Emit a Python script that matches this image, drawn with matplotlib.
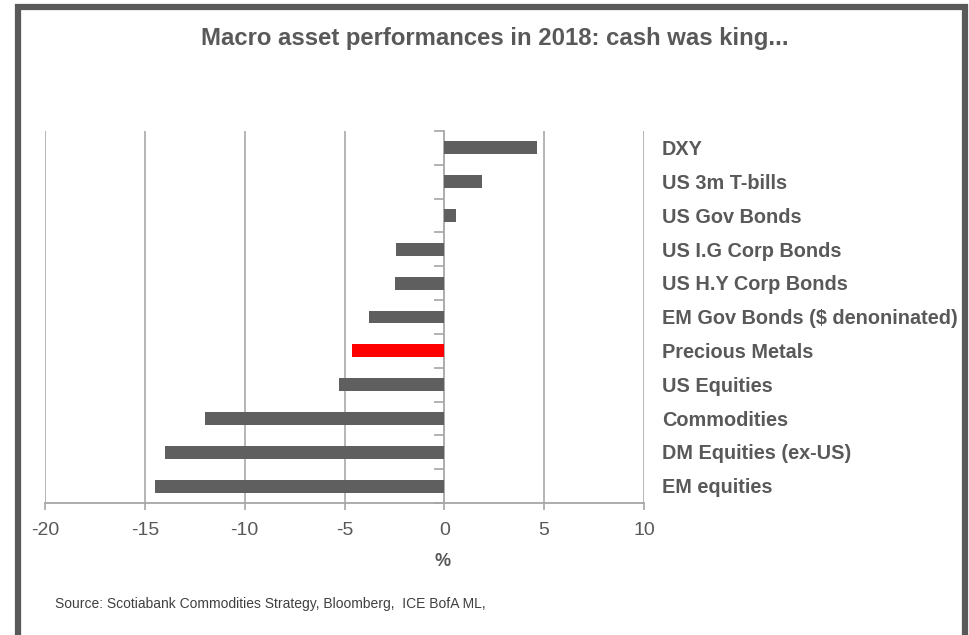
import matplotlib.pyplot as plt
from matplotlib.patches import Rectangle

assets = ["DXY", "US 3m T-bills", "US Gov Bonds", "US I.G Corp Bonds",
          "US H.Y Corp Bonds", "EM Gov Bonds ($ denoninated)", "Precious Metals",
          "US Equities", "Commodities", "DM Equities (ex-US)", "EM equities"]
returns = [4.65, 1.9, 0.6, -2.4, -2.45, -3.75, -4.6, -5.3, -12.0, -14.0, -14.5]
highlight = "Precious Metals"

xticks = [-20, -15, -10, -5, 0, 5, 10]

grey = "#595959"
plt.rcParams['font.family'] = ['Liberation Sans', 'DejaVu Sans']

fig = plt.figure(figsize=(9.69, 6.35), dpi=100)
ax = fig.add_axes([45/969, 132/635, 599/969, 372/635])

n = len(assets)
ypos = list(range(n - 1, -1, -1))
colors = ["#ff0000" if a == highlight else "#5f5f5f" for a in assets]
ax.barh(ypos, returns, height=0.38, color=colors, zorder=3)

ax.set_xlim(-20, 10)
ax.set_ylim(-0.5, n - 0.5)
ax.set_xticks(xticks)
ax.set_xticklabels([str(t) for t in xticks])
ax.tick_params(axis='x', colors="#a6a6a6", labelcolor=grey, labelsize=14,
               length=5, width=1.2, pad=9)

# category axis sits at zero with ticks between categories
ax.spines['left'].set_position(('data', 0))
ax.spines['left'].set_color("#a6a6a6")
ax.spines['left'].set_linewidth(1.3)
ax.set_yticks([i - 0.5 for i in range(n + 1)])
ax.set_yticklabels([])
ax.tick_params(axis='y', direction='out', length=7, width=1.2, colors="#a6a6a6")
ax.spines['bottom'].set_color("#a6a6a6")
ax.spines['bottom'].set_linewidth(1.3)
ax.spines['top'].set_visible(False)
ax.spines['right'].set_visible(False)

for x in [-20, -15, -10, -5, 5, 10]:
    ax.axvline(x, color="#b0b0b0", lw=1.3, zorder=1)

for y, a in zip(ypos, assets):
    ax.text(10.9, y - 0.05, a, ha='left', va='center', fontsize=14.3,
            fontweight='bold', color=grey, clip_on=False)

ax.set_xlabel("%", fontsize=13, fontweight='bold', color=grey)
ax.xaxis.set_label_coords(0.663, -0.135)

fig.text(495/969, 1 - 39/635, "Macro asset performances in 2018: cash was king...",
         ha='center', va='center', fontsize=17.2, fontweight='bold', color=grey)
fig.text(55/969, 1 - 604/635,
         "Source: Scotiabank Commodities Strategy, Bloomberg,  ICE BofA ML,",
         ha='left', va='center', fontsize=10, color="#404040")

# outer frame
fig.patches.append(Rectangle((18/969, -0.1), 947/969, 1.1 - 7.5/635,
                             transform=fig.transFigure, fill=False,
                             edgecolor=grey, lw=4.5))

fig.savefig("out.png", dpi=100)
